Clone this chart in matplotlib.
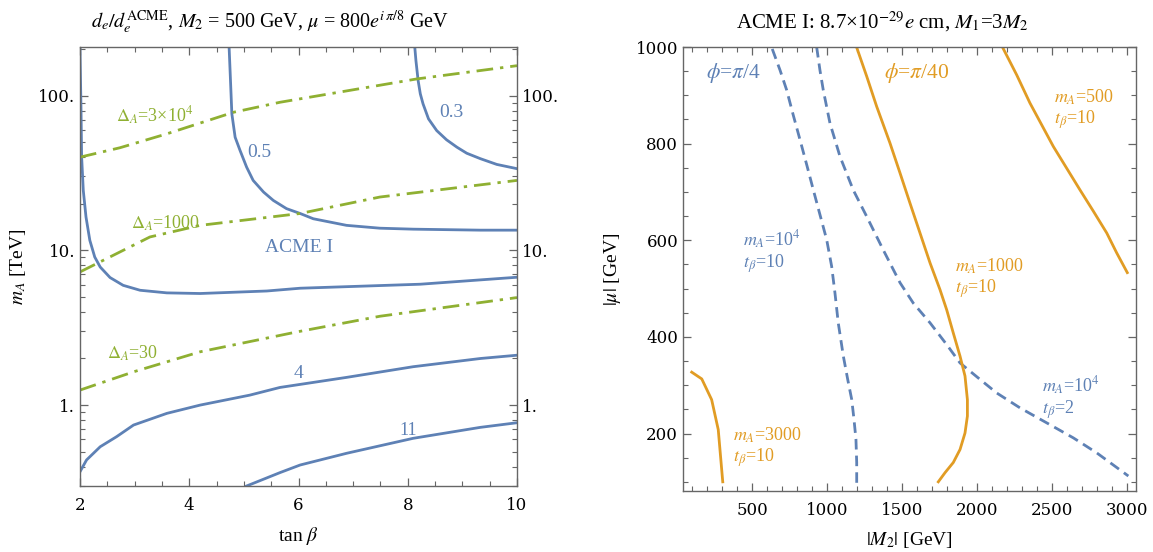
import numpy as np
import matplotlib
matplotlib.use("Agg")
import matplotlib.pyplot as plt
from matplotlib.ticker import FixedLocator, FixedFormatter, MultipleLocator, NullFormatter

plt.rcParams['font.family'] = ['Liberation Serif', 'DejaVu Serif']
plt.rcParams['mathtext.fontset'] = 'stix'

BLUE = '#5e81b5'
ORANGE = '#e19c24'
GREEN = '#8fb032'
FRAME = '#666666'

# ---------------- left panel data (tan beta, m_A [TeV]) ----------------
acme_tb = [2.0, 2.0, 2.018, 2.03, 2.06, 2.11, 2.18, 2.27, 2.37, 2.55, 2.79, 3.10,
           3.59, 4.20, 5.42, 6.03, 8.23, 10.0]
acme_mA = [210, 195, 84, 40.0, 24.4, 16.4, 11.6, 9.05, 7.8, 6.67, 5.94, 5.52,
           5.31, 5.26, 5.46, 5.69, 6.04, 6.70]

c05_tb = [4.73, 4.75, 4.78, 4.84, 4.93, 5.05, 5.17, 5.36, 5.54, 5.78, 6.03, 6.27,
          6.88, 7.49, 8.10, 9.33, 10.0]
c05_mA = [204, 138, 76.2, 53.8, 44.2, 34.5, 28.3, 23.8, 21.0, 18.6, 17.3, 16.0,
          14.5, 13.9, 13.7, 13.5, 13.5]

c03_tb = [8.13, 8.15, 8.19, 8.23, 8.28, 8.38, 8.53, 8.71, 8.90, 9.08, 9.33, 9.63, 10.0]
c03_mA = [203, 168, 125, 102.6, 88.4, 70.7, 59.4, 51.8, 46.4, 42.4, 39.1, 35.9, 33.7]

c4_tb = [2.0, 2.12, 2.37, 2.67, 2.98, 3.59, 4.20, 5.11, 5.66, 6.88, 8.10, 9.33, 10.0]
c4_mA = [0.371, 0.442, 0.538, 0.625, 0.743, 0.884, 1.0, 1.16, 1.30, 1.51, 1.77, 2.0, 2.10]

c11_tb = [5.05, 5.66, 6.03, 6.88, 8.10, 9.33, 10.0]
c11_mA = [0.30, 0.366, 0.41, 0.488, 0.61, 0.718, 0.769]

d3e4_tb = [2.0, 2.73, 3.59, 4.81, 5.66, 8.16, 10.0]
d3e4_mA = [40.0, 46.0, 56.6, 78.0, 90.5, 128, 156]

d1000_tb = [2.0, 3.28, 4.20, 6.03, 7.49, 10.0]
d1000_mA = [7.25, 12.2, 14.5, 17.3, 22.1, 28.3]

d30_tb = [2.0, 2.98, 4.20, 5.97, 7.49, 10.0]
d30_mA = [1.25, 1.64, 2.21, 2.97, 3.75, 4.95]

left_yticks = [1, 10, 100]
left_yticklabels = ['1.', '10.', '100.']
left_xticks = [2, 4, 6, 8, 10]

# ---------------- right panel data (|M2|, |mu| in GeV) ----------------
b1_M2 = [635, 687, 731, 775, 820, 865, 909, 953, 998, 1031, 1053, 1075, 1109, 1138,
         1165, 1180, 1193, 1198, 1198]
b1_mu = [996, 952, 911, 859, 808, 756, 704, 653, 601, 546, 491, 429, 360, 312,
         270, 229, 188, 140, 98]

b2_M2 = [931, 953, 975, 1020, 1087, 1175, 1265, 1375, 1487, 1575, 1687, 1798, 1887,
         2020, 2131, 2287, 2465, 2642, 2798, 3009]
b2_mu = [1000, 952, 911, 842, 773, 704, 649, 580, 512, 470, 429, 384, 346,
         312, 284, 253, 222, 191, 160, 112]

o3000_M2 = [98, 165, 231, 275, 305]
o3000_mu = [327, 313, 270, 208, 100]

o1000_M2 = [1198, 1265, 1331, 1420, 1487, 1553, 1620, 1687, 1753, 1798, 1842, 1887,
            1920, 1936, 1936, 1920, 1887, 1842, 1787, 1742]
o1000_mu = [999, 939, 877, 801, 739, 677, 615, 553, 498, 456, 408, 360,
            319, 270, 236, 201, 167, 140, 119, 100]

o500_M2 = [2171, 2265, 2353, 2431, 2509, 2598, 2687, 2776, 2865, 2931, 3002]
o500_mu = [999, 942, 884, 839, 794, 749, 704, 660, 615, 574, 533]

right_xticks = [500, 1000, 1500, 2000, 2500, 3000]
right_yticks = [200, 400, 600, 800, 1000]

# ---------------- figure ----------------
fig = plt.figure(figsize=(11.53, 5.52), dpi=100)
axL = fig.add_axes([80/1153, 1-486/552, 437/1153, 439/552])
axR = fig.add_axes([683/1153, 1-491/552, 453/1153, 444/552])

LW = 2.0
TICKFONT = {'family': 'DejaVu Serif', 'size': 12}

def style_frame(ax):
    for s in ax.spines.values():
        s.set_color(FRAME)
        s.set_linewidth(1.0)
    ax.tick_params(which='both', direction='in', top=True, right=True, color=FRAME,
                   labelcolor='black')
    ax.tick_params(which='major', length=6, width=0.9)
    ax.tick_params(which='minor', length=3.5, width=0.8)

def set_tickfont(ax):
    for lab in ax.get_xticklabels() + ax.get_yticklabels():
        lab.set_fontfamily(TICKFONT['family'])
        lab.set_fontsize(TICKFONT['size'])
    for t in ax.yaxis.get_major_ticks():
        t.label2.set_fontfamily(TICKFONT['family'])
        t.label2.set_fontsize(TICKFONT['size'])

# Left
axL.plot(acme_tb, acme_mA, color=BLUE, lw=LW)
axL.plot(c05_tb, c05_mA, color=BLUE, lw=LW)
axL.plot(c03_tb, c03_mA, color=BLUE, lw=LW)
axL.plot(c4_tb, c4_mA, color=BLUE, lw=LW)
axL.plot(c11_tb, c11_mA, color=BLUE, lw=LW)
dd = (0, (6, 2.5, 1.2, 2.5))
for tb, mA in [(d3e4_tb, d3e4_mA), (d1000_tb, d1000_mA), (d30_tb, d30_mA)]:
    axL.plot(tb, mA, color=GREEN, lw=LW, linestyle=dd)

axL.set_yscale('log')
axL.set_xlim(2, 10)
axL.set_ylim(0.3, 206)
axL.xaxis.set_major_locator(FixedLocator(left_xticks))
axL.xaxis.set_minor_locator(MultipleLocator(0.5))
axL.yaxis.set_major_locator(FixedLocator(left_yticks))
axL.yaxis.set_major_formatter(FixedFormatter(left_yticklabels))
minor = [m * 10.0**e for e in (-1, 0, 1, 2) for m in range(2, 10)]
axL.yaxis.set_minor_locator(FixedLocator(minor))
axL.yaxis.set_minor_formatter(NullFormatter())
style_frame(axL)
axL.tick_params(axis='y', labelright=True)
axL.tick_params(axis='x', pad=8)
set_tickfont(axL)

LBL = 13
axL.text(3.37, 74, r"$\Delta_A$=3×10$^4$", color=GREEN, fontsize=LBL, ha='center', va='center')
axL.text(3.57, 14.9, r"$\Delta_A$=1000", color=GREEN, fontsize=LBL, ha='center', va='center')
axL.text(2.97, 2.16, r"$\Delta_A$=30", color=GREEN, fontsize=LBL, ha='center', va='center')
axL.text(5.28, 42.9, "0.5", color=BLUE, fontsize=LBL+1, ha='center', va='center')
axL.text(8.79, 78, "0.3", color=BLUE, fontsize=LBL+1, ha='center', va='center')
axL.text(6.01, 10.45, "ACME I", color=BLUE, fontsize=LBL+1, ha='center', va='center')
axL.text(6.0, 1.6, "4", color=BLUE, fontsize=LBL+1, ha='center', va='center')
axL.text(8.01, 0.683, "11", color=BLUE, fontsize=LBL, ha='center', va='center')

fig.text(270/1153, 1-22/552,
         r"$d_e/d_e^{\mathrm{ACME}}$, $M_2$ = 500 GeV, $\mu$ = 800$e^{i\,\pi/8}$ GeV",
         fontsize=14.5, ha='center', va='center')
axL.set_xlabel(r"tan $\beta$", fontsize=14, labelpad=8)
axL.set_ylabel(r"$m_A$ [TeV]", fontsize=14, labelpad=7)

# Right
dash = (0, (3.8, 2.2))
axR.plot(b1_M2, b1_mu, color=BLUE, lw=LW, linestyle=dash)
axR.plot(b2_M2, b2_mu, color=BLUE, lw=LW, linestyle=dash)
axR.plot(o3000_M2, o3000_mu, color=ORANGE, lw=LW)
axR.plot(o1000_M2, o1000_mu, color=ORANGE, lw=LW)
axR.plot(o500_M2, o500_mu, color=ORANGE, lw=LW)

axR.set_xlim(40, 3060)
axR.set_ylim(81, 1000)
axR.xaxis.set_major_locator(FixedLocator(right_xticks))
axR.xaxis.set_minor_locator(MultipleLocator(100))
axR.yaxis.set_major_locator(FixedLocator(right_yticks))
axR.yaxis.set_minor_locator(MultipleLocator(50))
style_frame(axR)
axR.tick_params(axis='x', pad=8)
set_tickfont(axR)

axR.text(373, 946, r"$\phi$=$\pi$/4", color=BLUE, fontsize=15.5, ha='center', va='center')
axR.text(1600, 946, r"$\phi$=$\pi$/40", color=ORANGE, fontsize=15.5, ha='center', va='center')

def two_line(x, y1, y2, s1, s2, col):
    axR.text(x, y1, s1, color=col, fontsize=LBL, ha='left', va='center')
    axR.text(x, y2, s2, color=col, fontsize=LBL, ha='left', va='center')

two_line(440, 600, 552, r"$m_A$=10$^4$", r"$t_\beta$=10", BLUE)
two_line(373, 197, 150, r"$m_A$=3000", r"$t_\beta$=10", ORANGE)
two_line(1853, 546, 500, r"$m_A$=1000", r"$t_\beta$=10", ORANGE)
two_line(2513, 896, 849, r"$m_A$=500", r"$t_\beta$=10", ORANGE)
two_line(2432, 298, 250, r"$m_A$=10$^4$", r"$t_\beta$=2", BLUE)

fig.text(882/1153, 1-22/552, r"ACME I: 8.7×10$^{-29}$$e$ cm, $M_1$=3$M_2$",
         fontsize=15, ha='center', va='center')
axR.set_xlabel(r"$|M_2|$ [GeV]", fontsize=14, labelpad=8)
axR.set_ylabel(r"$|\mu|$ [GeV]", fontsize=14, labelpad=9)

fig.savefig("out.png", dpi=100)
